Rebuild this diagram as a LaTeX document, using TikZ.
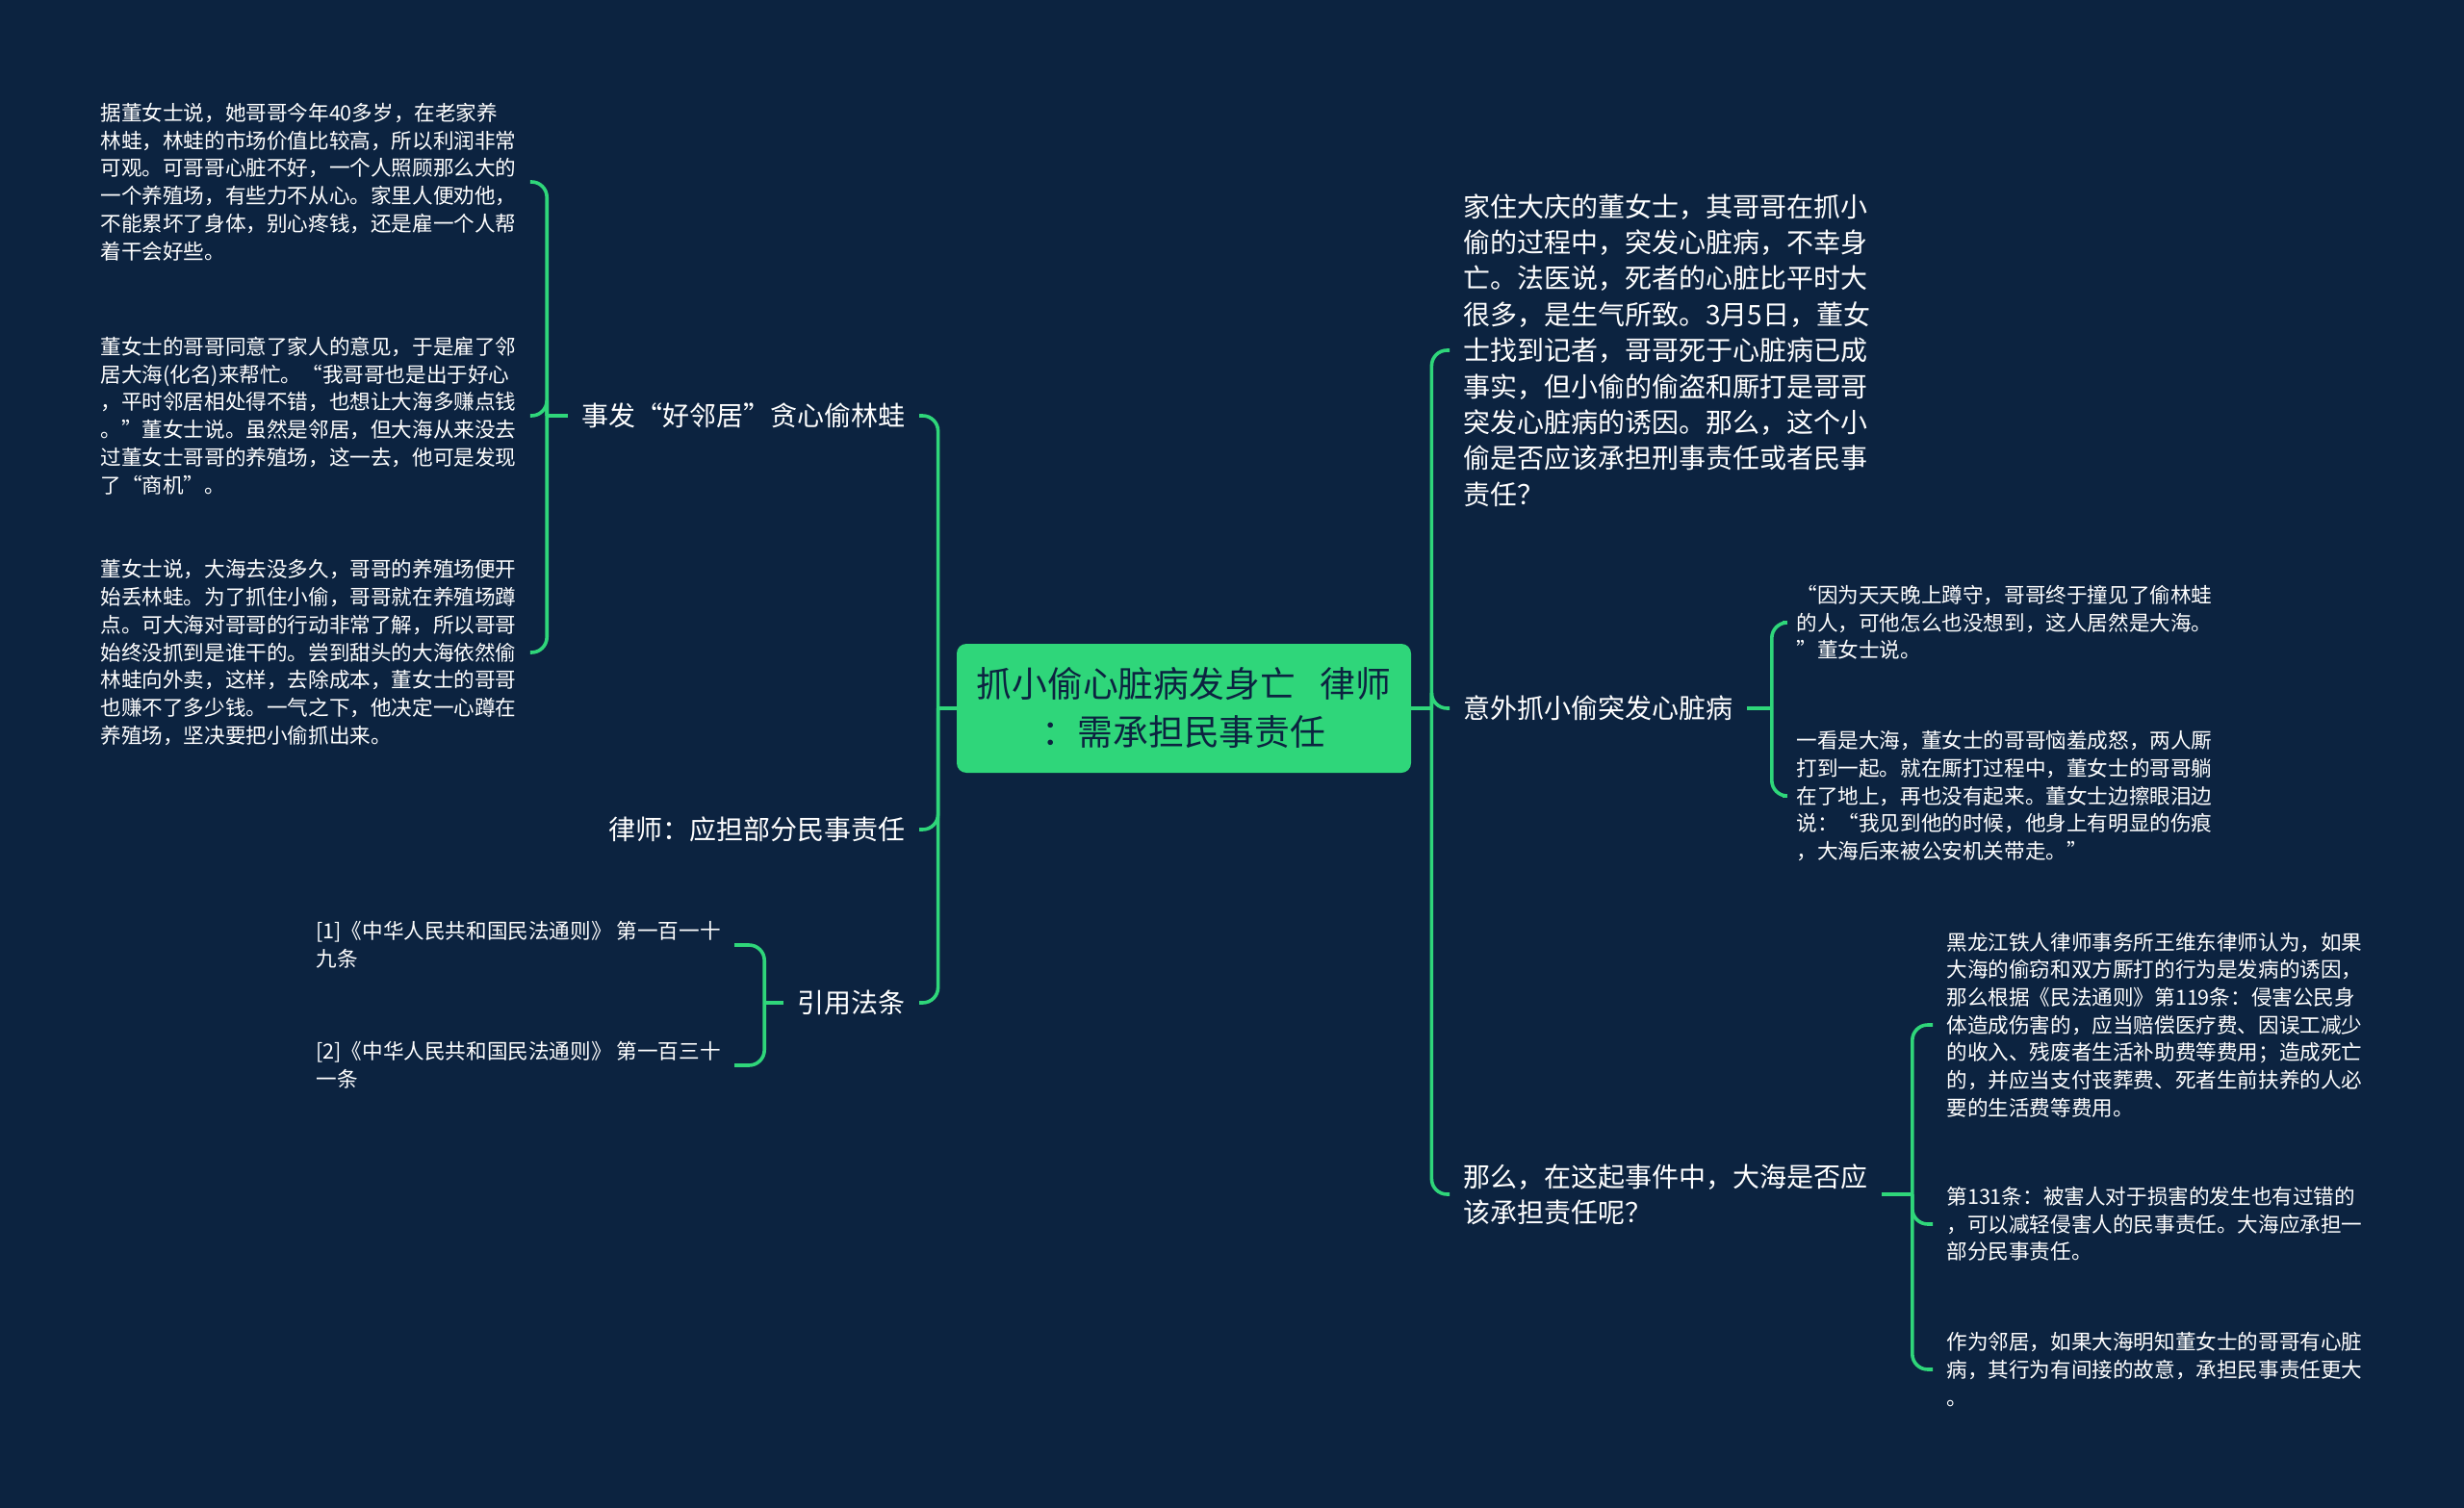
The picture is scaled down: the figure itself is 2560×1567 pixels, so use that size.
\documentclass[tikz,border=0pt]{standalone}
\usepackage{fontspec}
\newfontfamily\cjk{Noto Sans CJK SC}
\usepackage{tikz}
\usetikzlibrary{positioning}
\definecolor{bgnavy}{HTML}{0C2340}
\definecolor{mapgreen}{HTML}{2FD67A}
\tikzset{
rootnode/.style = {rectangle, rounded corners=5pt, fill=mapgreen, text=bgnavy,
  minimum width=236pt, minimum height=67pt, align=center,
  font=\cjk\fontsize{18.4}{25}\selectfont},
topicnode/.style = {text=white, align=left, inner xsep=7pt, inner ysep=0pt,
  font=\cjk\fontsize{14}{18.7}\selectfont},
leafnode/.style = {text=white, align=left, inner xsep=7pt, inner ysep=0pt,
  font=\cjk\fontsize{10.8}{14.35}\selectfont},
branchline/.style = {draw=mapgreen, line width=1.8pt, rounded corners=8pt}
}

\begin{document}
\begin{tikzpicture}[x=0.5pt, y=-0.5pt]
  \fill[bgnavy] (0,0) rectangle (2560,1567);
  \useasboundingbox (0,0) rectangle (2560,1567);

  % centre
  \node [rootnode] (root) at (1230,736) {抓小偷心脏病发身亡\hspace{0.7em}律师\\：需承担民事责任};

  % left topics
  \node [topicnode, anchor=east] (incident) at (955,432) {事发“好邻居”贪心偷林蛙};
  \node [topicnode, anchor=east] (lawyer) at (955,862) {律师：应担部分民事责任};
  \node [topicnode, anchor=east] (refs) at (955,1042) {引用法条};

  \node [leafnode, anchor=west] (story1) at (90,189)
    {据董女士说，她哥哥今年40多岁，在老家养\\
     林蛙，林蛙的市场价值比较高，所以利润非常\\
     可观。可哥哥心脏不好，一个人照顾那么大的\\
     一个养殖场，有些力不从心。家里人便劝他，\\
     不能累坏了身体，别心疼钱，还是雇一个人帮\\
     着干会好些。};
  \node [leafnode, anchor=west] (story2) at (90,432)
    {董女士的哥哥同意了家人的意见，于是雇了邻\\
     居大海(化名)来帮忙。“我哥哥也是出于好心\\
     ，平时邻居相处得不错，也想让大海多赚点钱\\
     。”董女士说。虽然是邻居，但大海从来没去\\
     过董女士哥哥的养殖场，这一去，他可是发现\\
     了“商机”。};
  \node [leafnode, anchor=west] (story3) at (90,678)
    {董女士说，大海去没多久，哥哥的养殖场便开\\
     始丢林蛙。为了抓住小偷，哥哥就在养殖场蹲\\
     点。可大海对哥哥的行动非常了解，所以哥哥\\
     始终没抓到是谁干的。尝到甜头的大海依然偷\\
     林蛙向外卖，这样，去除成本，董女士的哥哥\\
     也赚不了多少钱。一气之下，他决定一心蹲在\\
     养殖场，坚决要把小偷抓出来。};
  \node [leafnode, anchor=west] (ref1) at (314,982)
    {[1]《中华人民共和国民法通则》 第一百一十\\九条};
  \node [leafnode, anchor=west] (ref2) at (314,1107)
    {[2]《中华人民共和国民法通则》 第一百三十\\一条};

  % right topics
  \node [topicnode, anchor=west] (intro) at (1506,364)
    {家住大庆的董女士，其哥哥在抓小\\
     偷的过程中，突发心脏病，不幸身\\
     亡。法医说，死者的心脏比平时大\\
     很多，是生气所致。3月5日，董女\\
     士找到记者，哥哥死于心脏病已成\\
     事实，但小偷的偷盗和厮打是哥哥\\
     突发心脏病的诱因。那么，这个小\\
     偷是否应该承担刑事责任或者民事\\
     责任？};
  \node [topicnode, anchor=west] (caught) at (1506,736) {意外抓小偷突发心脏病};
  \node [topicnode, anchor=west] (question) at (1506,1241)
    {那么，在这起事件中，大海是否应\\该承担责任呢？};

  \node [leafnode, anchor=west] (quote1) at (1852,647)
    {“因为天天晚上蹲守，哥哥终于撞见了偷林蛙\\
     的人，可他怎么也没想到，这人居然是大海。\\
     ”董女士说。};
  \node [leafnode, anchor=west] (fight) at (1852,827)
    {一看是大海，董女士的哥哥恼羞成怒，两人厮\\
     打到一起。就在厮打过程中，董女士的哥哥躺\\
     在了地上，再也没有起来。董女士边擦眼泪边\\
     说：“我见到他的时候，他身上有明显的伤痕\\
     ，大海后来被公安机关带走。”};
  \node [leafnode, anchor=west] (law119) at (2008,1065)
    {黑龙江铁人律师事务所王维东律师认为，如果\\
     大海的偷窃和双方厮打的行为是发病的诱因，\\
     那么根据《民法通则》第119条：侵害公民身\\
     体造成伤害的，应当赔偿医疗费、因误工减少\\
     的收入、残废者生活补助费等费用；造成死亡\\
     的，并应当支付丧葬费、死者生前扶养的人必\\
     要的生活费等费用。};
  \node [leafnode, anchor=west] (law131) at (2008,1272)
    {第131条：被害人对于损害的发生也有过错的\\
     ，可以减轻侵害人的民事责任。大海应承担一\\
     部分民事责任。};
  \node [leafnode, anchor=west] (neighbour) at (2008,1423)
    {作为邻居，如果大海明知董女士的哥哥有心脏\\
     病，其行为有间接的故意，承担民事责任更大\\
     。};

  % connectors
  \draw [branchline] (root.west) -- ++(-9.5pt,0) coordinate (ltrunk);
  \foreach \n in {incident,lawyer,refs}
    \draw [branchline] (ltrunk) |- (\n.east);
  \draw [branchline] (root.east) -- ++(10.5pt,0) coordinate (rtrunk);
  \foreach \n in {intro,caught,question}
    \draw [branchline] (rtrunk) |- (\n.west);

  \draw [branchline] (incident.west) -- ++(-11pt,0) coordinate (itrunk);
  \foreach \n in {story1,story2,story3}
    \draw [branchline] (itrunk) |- (\n.east);
  \draw [branchline] (refs.west) -- ++(-10pt,0) coordinate (ftrunk);
  \foreach \n in {ref1,ref2}
    \draw [branchline] (ftrunk) |- (\n.east);

  \draw [branchline] (caught.east) -- ++(13pt,0) coordinate (ctrunk);
  \foreach \n in {quote1,fight}
    \draw [branchline] (ctrunk) |- (\n.west);
  \draw [branchline] (question.east) -- ++(16pt,0) coordinate (qtrunk);
  \foreach \n in {law119,law131,neighbour}
    \draw [branchline] (qtrunk) |- (\n.west);
\end{tikzpicture}
\end{document}
